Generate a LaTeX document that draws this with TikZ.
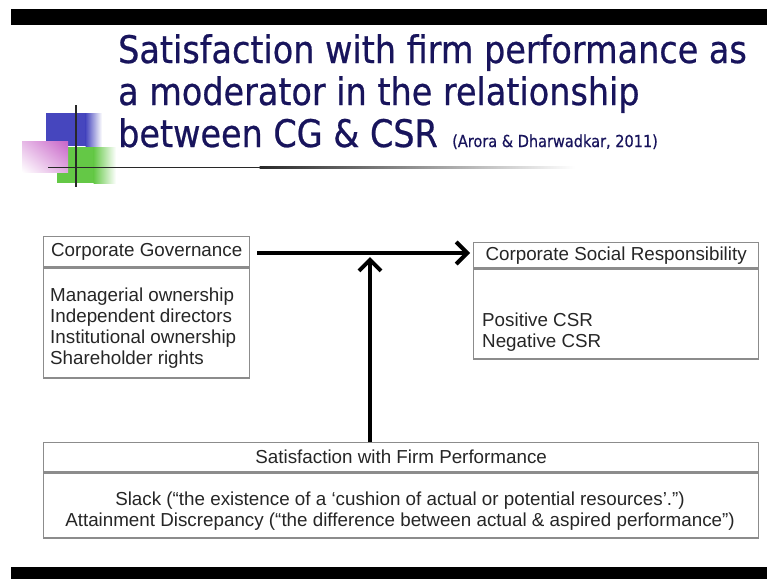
\documentclass[tikz,border=0pt]{standalone}
\usepackage{fontspec}
\setmainfont{Liberation Sans}
\newfontfamily\titlefont[FakeStretch=0.88,FakeBold=0.6]{DejaVu Sans}
\usetikzlibrary{arrows.meta,shadings}

\definecolor{titleblue}{RGB}{24,20,92}
\definecolor{boxgrey}{RGB}{140,140,140}
\definecolor{sqblue}{RGB}{70,70,190}
\definecolor{sqgreen}{RGB}{100,200,70}
\definecolor{sqpink}{RGB}{200,100,200}
\definecolor{inkgrey}{RGB}{40,40,40}

\begin{document}
\begin{tikzpicture}[x=1pt,y=-1pt,
  box/.style={draw=boxgrey, line width=1.3pt, rectangle, inner sep=0pt, anchor=north west},
  boxtext/.style={font=\fontsize{18.8}{21}\selectfont, inner sep=0pt, text=black!85},
  flow/.style={line width=4pt, -{Straight Barb[length=11pt,width=22pt]}},
  titleline/.style={font=\titlefont\fontsize{38}{42}\selectfont, text=titleblue, anchor=base west, inner sep=0pt}]

% page and slide bars
\fill[white] (0,0) rectangle (767,579);
\useasboundingbox (0,0) rectangle (767,579);
\fill[black] (11,9) rectangle (767,25);
\fill[black] (11,567) rectangle (767,579);

% corner ornament: overlapping squares and crossing rules
\fill[sqblue] (46,113) rectangle (86,146);
\shade[left color=sqblue, right color=white] (85.5,113) rectangle (102,146);
\fill[sqgreen] (57,147) rectangle (94,183);
\shade[left color=sqgreen, right color=white] (93.5,147) rectangle (116,183);
\shade[upper right=sqpink, upper left=sqpink!45, lower right=sqpink!55, lower left=white] (22,141) rectangle (68,172);
\draw[inkgrey, line width=1.5pt] (76,105) -- (76,187);
\fill[inkgrey] (48,166.8) rectangle (260,168.3);
\shade[left color=inkgrey, right color=white] (259.5,166.8) rectangle (575,168.3);

% title
\node[titleline] (title1) at (118,63) {Satisfaction with firm performance as};
\node[titleline] (title2) at (118,105) {a moderator in the relationship};
\node[titleline] (title3) at (118,147) {between CG \& CSR};
\node[titleline, font=\titlefont\fontsize{16.5}{18}\selectfont] (cite) at (452,147) {(Arora \& Dharwadkar, 2011)};

% corporate governance
\node[box, boxtext, minimum width=206pt, minimum height=30pt] (cghead) at (43,236) {Corporate Governance};
\node[box, minimum width=206pt, minimum height=110pt, anchor=north] (cgbody) at (cghead.south) {};
\node[boxtext, align=left, anchor=west] (cgitems) at (50,328.5)
  {Managerial ownership\\Independent directors\\Institutional ownership\\Shareholder rights};

% corporate social responsibility
\node[box, boxtext, minimum width=285pt, minimum height=25pt] (csrhead) at (473,242) {Corporate Social Responsibility};
\node[box, minimum width=285pt, minimum height=90pt, anchor=north] (csrbody) at (csrhead.south) {};
\node[boxtext, align=left, anchor=west] (csritems) at (482,332) {Positive CSR\\Negative CSR};

% satisfaction with firm performance
\node[box, boxtext, minimum width=715pt, minimum height=29pt] (sfphead) at (43,442) {Satisfaction with Firm Performance};
\node[box, minimum width=715pt, minimum height=65pt, anchor=north] (sfpbody) at (sfphead.south) {};
\node[boxtext, align=center] (sfpitems) at (400,511)
  {Slack (“the existence of a ‘cushion of actual or potential resources’.”)\\
   Attainment Discrepancy (“the difference between actual \& aspired performance”)};

% relationships
\coordinate (join) at (370,253);
\draw[flow, shorten <=7pt, shorten >=3pt] (cghead.east |- join) -- (csrhead.west |- join);
\draw[flow, shorten >=4pt] (sfphead.north -| join) -- (join);
\end{tikzpicture}
\end{document}
